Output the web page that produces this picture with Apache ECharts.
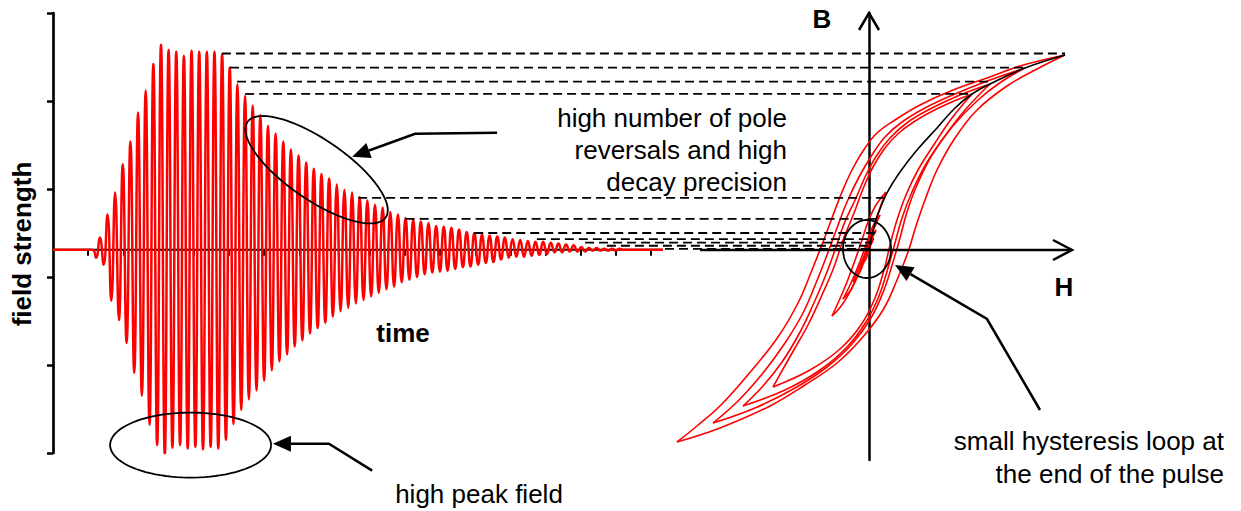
<!DOCTYPE html>
<html>
<head>
<meta charset="utf-8">
<script src="https://cdn.jsdelivr.net/npm/echarts@6/dist/echarts.min.js"></script>
<style>html,body{margin:0;padding:0;background:#fff}#c{width:1241px;height:511px}</style>
</head>
<body>
<div id="c"></div>
<script>
// ---------- data ----------
// time plot: alternating half-cycle peaks of the decaying field (field units)
const fieldPeaks = [-9,14,-17,40,-58,65,-80,97,-106,123,-140,156,-166,181,-199,211,-222,233,
  -233,227,-225,225,-222,220,-226,226,-224,225,-227,225,-224,225,-226,222,
  -216,207,-198,188,-182,175,-170,164,-160,153,-149,141,-137,132,-127,123,
  -119,114,-110,107,-103,99,-95,92,-89,86,-83,81,-76,74,-70,68,
  -66,65,-61,60,-57,56,-53,51,-49,48,-45,43,-42,40,-37,36,
  -34,34,-31,32,-28,30,-26,27,-25,26,-24,25,-22,23,-20,20,
  -19,19,-17,17,-15,16,-14,15,-11,14,-9,12,-8,11,-8,10,
  -7,9,-6,9,-5,8,-3,7,-3,6,-2,5,-2,3,-2,2,
  -1,2,-1,1,-1,1,-1,1];
const firstPeakTime = 1.222;   // time of first half-cycle peak
const halfPeriod = 0.1086;     // sampling step between half-cycle peaks
const timeAxisEnd = 17.33;     // visible end of the time axis
const timeMax = 29;            // extent used so projections can reach the loops
const timeTicks = [1,2,3,4,5,6,7,8,9,10,11,12,13,14,15,16,17];
const fieldMin = -231, fieldMax = 269;
const fieldTicks = [-231,-131,-31,69,169,269];

// dashed projection lines: level, start time, end time
const dashedLevels = [223, 207, 191, 177, 59, 35, 19, 12, 8, 4.5, 1];
const dashedStart  = [4.80, 5.03, 5.23, 5.46, 8.67, 10.02, 11.97, 13.75, 15.12, 15.74, 17.39];
const dashedEnd    = [28.76, 27.62, 26.63, 26.12, 23.61, 23.44, 23.39, 23.33, 23.27, 23.25, 23.22];

// hysteresis (H, B) branches
const loop1Upper = [[98,97.5],[75.5,92],[59,86],[42,80],[25.5,72.5],[13,65],[4,58.5],[-2,51],[-8,41],[-13.5,29],[-18.5,16],[-23,4],[-28.5,-10],[-35.5,-26.5],[-45.5,-43.5],[-58.5,-60],[-73.5,-77],[-86,-88],[-96,-96]];
const loop1Lower = [[-96,-96],[-74.5,-89],[-49.5,-78],[-32,-67.5],[-16,-56.5],[-3.5,-44],[7,-30],[14,-15],[19.5,-1],[23.5,12],[28,25],[34,40],[43,56],[54,70],[69,82],[84,90.5],[98,97.5]];
const loop2Upper = [[78,91],[60.5,85],[43,78],[28,71],[16.5,64],[8,56.5],[1.5,47.5],[-5,36.5],[-11,24],[-16,11],[-21,-2.5],[-26.5,-16.5],[-33,-31.5],[-42,-46.5],[-53,-61.5],[-65.5,-75.5],[-78,-86.5]];
const loop2Lower = [[-78,-86.5],[-57,-79],[-37,-69],[-21,-58.5],[-8.5,-47],[1,-34],[7.5,-20],[12,-6],[15.5,6],[19,19],[24,32.5],[31.5,47.5],[41.5,61.5],[54.5,75],[66,84],[78,91]];
const loop3Upper = [[60.5,83],[45.5,77.5],[31.5,71],[19.5,64],[10.5,56],[4,47.5],[-1.5,37.5],[-6.5,26],[-12.5,13],[-17,0],[-22,-13.5],[-28,-27.5],[-35,-42],[-43.5,-56],[-53,-68],[-63,-78]];
const loop3Lower = [[-63,-78],[-42,-70],[-24.5,-60],[-11,-48.5],[-1.5,-36],[5,-23],[9.5,-9],[13,3.5],[16.5,16],[21.5,29],[28.5,43],[38,57],[48,70],[60.5,83]];
const loop4Upper = [[51.5,78],[38,72.5],[25.5,66],[15.5,59],[8,51],[2,41.5],[-3,30.5],[-7.5,18.5],[-13,5],[-17.5,-8.5],[-23.5,-22.5],[-30,-36.5],[-37,-49],[-43,-59.5],[-48,-68.5]];
const loop4Lower = [[-48,-68.5],[-29.5,-60],[-14.5,-49.5],[-4,-37.5],[3,-24],[7.5,-10],[10.5,2.5],[14,15],[18.5,27.5],[24.5,40],[33,53.5],[41.5,66],[51.5,78]];
const loop5Upper = [[8.5,29],[3.5,22.5],[-0.5,14],[-4,3.5],[-8,-8],[-12,-18.5],[-15.5,-26.5],[-18.5,-33]];
const loop5Lower = [[-18.5,-33],[-13.5,-27.5],[-8.5,-19],[-4,-8.5],[-0.5,2.5],[3,14],[6,22.5],[8.5,29]];
const loop6Upper = [[5.5,17.5],[1.5,11],[-1.5,2.5],[-5,-7],[-9,-16.5],[-13,-24.5]];
const loop6Lower = [[-13,-24.5],[-8.5,-19],[-4.5,-10],[-1.5,-1],[1.5,8],[5.5,17.5]];
const loop7Upper = [[3.5,10],[0,4],[-2.5,-3],[-5.5,-10],[-8,-16]];
const loop7Lower = [[-8,-16],[-4.5,-11],[-2,-4],[0.5,3],[3.5,10]];
const loop8Upper = [[2,5],[-0.5,0.5],[-2.5,-4],[-4,-8]];
const loop8Lower = [[-4,-8],[-1.5,-4.5],[0,0],[2,5]];
const virginCurve = [[0,0],[1.5,7.5],[4,16.5],[9,28.5],[15.5,39],[24,50],[34,61],[43,71],[51.5,78],[60.5,83],[78,91],[98,97.5]];
const hMin = -96, hAxisStart = -84.5, hMax = 101.5, bMin = -105, bMax = 118.5;

// annotation anchors (data coordinates)
const decayEllipseCenter = [7.49, 90.9];
const peakEllipseCenter = [3.91, -222];
const loopCircleCenter = [-1, 0.5];
const decayArrow = [[12.62,133],[10.29,131.8],[8.50,105.7]];
const peakArrow = [[9.07,-251],[7.84,-220.5],[6.25,-220.5]];
const loopArrow = [[85.5,-80],[59,-34.5],[13,-7.5]];

// ---------- build ----------
const signal = [[0,0],[firstPeakTime - halfPeriod, 0]];
fieldPeaks.forEach((v,i) => signal.push([firstPeakTime + i*halfPeriod, v]));
signal.push([firstPeakTime + fieldPeaks.length*halfPeriod, 0]);
signal.push([timeAxisEnd, 0]);

const FONT = '"Liberation Sans", Arial, Helvetica, sans-serif';
const series = [];

// time axis line (only up to its visible end)
series.push({type:'line', xAxisIndex:0, yAxisIndex:0, data:[[0,0],[timeAxisEnd,0]], symbol:'none',
  lineStyle:{color:'#000', width:2}, silent:true, z:1});
series.push({type:'line', xAxisIndex:0, yAxisIndex:0, data:signal, smooth:0.5, symbol:'none',
  lineStyle:{color:'#ff0000', width:2.5}, silent:true, z:2});

dashedLevels.forEach((v,i) => series.push({type:'line', xAxisIndex:0, yAxisIndex:0,
  data:[[dashedStart[i], v],[dashedEnd[i], v]], symbol:'none',
  lineStyle:{color:'#000', width:1.8, type:[9,5]}, silent:true, z:4}));

// H axis line
series.push({type:'line', xAxisIndex:1, yAxisIndex:1, data:[[hAxisStart,0],[hMax,0]], symbol:'none',
  lineStyle:{color:'#000', width:2.5}, silent:true, z:5});

[loop1Upper,loop1Lower,loop2Upper,loop2Lower,loop3Upper,loop3Lower,loop4Upper,loop4Lower,
 loop5Upper,loop5Lower,loop6Upper,loop6Lower,loop7Upper,loop7Lower,loop8Upper,loop8Lower].forEach(b =>
  series.push({type:'line', xAxisIndex:1, yAxisIndex:1, data:b, smooth:0.4, symbol:'none',
    lineStyle:{color:'#ff0000', width:1.6}, silent:true, z:3}));

series.push({type:'line', xAxisIndex:1, yAxisIndex:1, data:virginCurve, smooth:0.4, symbol:'none',
  lineStyle:{color:'#000', width:1.6}, silent:true, z:3});

function ellipseSeries(center, rx, ry, angleDeg, xi, yi) {
  return {type:'custom', xAxisIndex:xi, yAxisIndex:yi, clip:false, silent:true, z:6, data:[center],
    renderItem: function(params, api) {
      const c = api.coord([api.value(0), api.value(1)]);
      const a = angleDeg*Math.PI/180, pts = [];
      for (let k = 0; k <= 90; k++) {
        const th = k/90*2*Math.PI, ex = rx*Math.cos(th), ey = ry*Math.sin(th);
        pts.push([c[0] + ex*Math.cos(a) - ey*Math.sin(a), c[1] + ex*Math.sin(a) + ey*Math.cos(a)]);
      }
      return {type:'polyline', shape:{points:pts}, style:{stroke:'#000', lineWidth:1.8, fill:'none'}};
    }};
}
function arrowSeries(pts, xi, yi) {
  return {type:'custom', xAxisIndex:xi, yAxisIndex:yi, clip:false, silent:true, z:6, data:pts,
    renderItem: function(params, api) {
      if (params.dataIndex !== 0) return null;
      const P = pts.map(p => api.coord(p));
      const n = P.length, tip = P[n-1], prev = P[n-2];
      const dx = tip[0]-prev[0], dy = tip[1]-prev[1], L = Math.hypot(dx,dy), ux = dx/L, uy = dy/L;
      const len = 18, hw = 8;
      const base = [tip[0]-ux*len, tip[1]-uy*len];
      return {type:'group', children:[
        {type:'polyline', shape:{points:P.slice(0,n-1).concat([base])}, style:{stroke:'#000', lineWidth:2.5, fill:'none'}},
        {type:'polygon', shape:{points:[tip,[base[0]-uy*hw, base[1]+ux*hw],[base[0]+uy*hw, base[1]-ux*hw]]}, style:{fill:'#000'}}
      ]};
    }};
}
function openHead(point, dir) {
  return {type:'custom', xAxisIndex:1, yAxisIndex:1, clip:false, silent:true, z:7, data:[point],
    renderItem: function(params, api) {
      const p = api.coord([api.value(0), api.value(1)]);
      const pts = dir === 'up'
        ? [[p[0]-10, p[1]+17],[p[0], p[1]],[p[0]+10, p[1]+17]]
        : [[p[0]-19, p[1]-10],[p[0], p[1]],[p[0]-19, p[1]+10]];
      return {type:'polyline', shape:{points:pts}, style:{stroke:'#000', lineWidth:2.5, fill:'none'}};
    }};
}
series.push(ellipseSeries(decayEllipseCenter, 84, 30, 34.6, 0, 0));
series.push(ellipseSeries(peakEllipseCenter, 80.5, 32.5, 0, 0, 0));
series.push(ellipseSeries(loopCircleCenter, 24, 29, 0, 1, 1));
series.push(arrowSeries(decayArrow, 0, 0));
series.push(arrowSeries(peakArrow, 0, 0));
series.push(arrowSeries(loopArrow, 1, 1));
series.push(openHead([0, bMax], 'up'));
series.push(openHead([hMax, 0], 'right'));

function txt(text, x, y, opts) {
  opts = opts || {};
  return {type:'text', x:x, y:y, rotation:opts.rotation || 0, silent:true, z:10,
    style:{text:text, fill:'#000', font:(opts.bold ? 'bold ' : '') + '26px ' + FONT,
      textAlign:opts.align || 'center', align:opts.align || 'center',
      textVerticalAlign:'middle', verticalAlign:'middle', lineHeight:opts.lh || 32}};
}

const option = {
  animation:false,
  backgroundColor:'#fff',
  grid:[
    {left:53, top:13, width:29*35.19, height:440, outerBoundsMode:'none', containLabel:false},
    {left:677, top:13, width:395, height:447, outerBoundsMode:'none', containLabel:false}
  ],
  xAxis:[
    {type:'value', gridIndex:0, min:0, max:timeMax, interval:1,
      axisLine:{show:false, onZero:true},
      axisTick:{show:true, length:6, customValues:timeTicks, lineStyle:{color:'#000', width:2}},
      axisLabel:{show:false}, splitLine:{show:false}},
    {type:'value', gridIndex:1, min:hMin, max:hMax,
      axisLine:{show:false, onZero:true},
      axisTick:{show:false}, axisLabel:{show:false}, splitLine:{show:false}}
  ],
  yAxis:[
    {type:'value', gridIndex:0, min:fieldMin, max:fieldMax,
      axisLine:{show:true, lineStyle:{color:'#000', width:2.7}},
      axisTick:{show:true, length:6, customValues:fieldTicks, lineStyle:{color:'#000', width:2.5}},
      axisLabel:{show:false}, splitLine:{show:false}},
    {type:'value', gridIndex:1, min:bMin, max:bMax,
      axisLine:{show:true, onZero:true, lineStyle:{color:'#000', width:2.5}},
      axisTick:{show:false}, axisLabel:{show:false}, splitLine:{show:false}}
  ],
  series:series,
  graphic:[
    txt('field strength', 22, 244, {bold:true, rotation:Math.PI/2}),
    txt('time', 403, 333, {bold:true}),
    txt('B', 822, 19, {bold:true}),
    txt('H', 1064, 287, {bold:true}),
    txt('high number of pole\nreversals and high\ndecay precision', 787, 150, {align:'right', lh:32}),
    txt('high peak field', 479, 494),
    txt('small hysteresis loop at\nthe end of the pulse', 1224, 457, {align:'right', lh:33})
  ]
};
const chart = echarts.init(document.getElementById('c'), null, {renderer:'svg'});
chart.setOption(option);
</script>
</body>
</html>
